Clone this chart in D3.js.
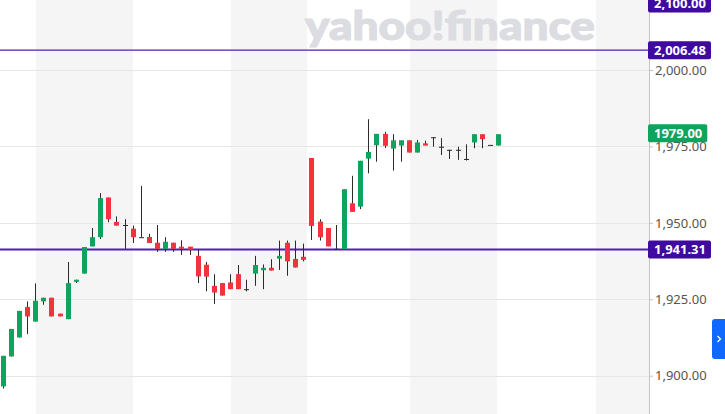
<!DOCTYPE html>
<html>
<head>
<meta charset="utf-8">
<script src="https://cdn.jsdelivr.net/npm/d3@7"></script>
<style>
html,body{margin:0;padding:0;background:#fff;overflow:hidden;}
svg{display:block;}
</style>
</head>
<body>
<svg id="chart" width="725" height="414"></svg>
<script>
// ---- data ----
const candleOpen  = [1896.5,1906.3,1912.5,1922.5,1917.7,1924.3,1925.5,1920.3,1918.5,1930.7,1933.4,1942.3,1945.3,1958.3,1950.3,1949.3,1948.1,1945.3,1945.4,1943.5,1941.5,1943.5,1942.2,1942.2,1939.2,1936.3,1929.4,1930.3,1930.5,1933.2,1928.3,1933.4,1934.5,1935.3,1938.3,1943.5,1938.2,1938.9,1971.2,1950.4,1948.3,1941.5,1941.4,1956.4,1955.3,1971.0,1975.4,1979.1,1974.3,1975.3,1977.0,1973.0,1976.0,1978.0,1974.9,1973.9,1973.9,1970.9,1976.3,1979.0,1975.5,1975.3];
const candleHigh  = [1906.5,1915.3,1921.2,1924.3,1930.2,1925.5,1925.5,1920.3,1937.2,1931.4,1942.1,1948.3,1959.7,1958.3,1952.1,1951.2,1949.1,1962.1,1946.4,1949.3,1945.3,1943.5,1944.3,1942.2,1941.2,1937.2,1933.2,1930.3,1933.2,1936.2,1931.4,1939.2,1936.4,1938.1,1944.2,1944.2,1944.2,1943.2,1971.2,1951.2,1948.3,1949.3,1961.0,1965.4,1970.3,1983.9,1979.1,1979.8,1979.0,1977.0,1977.0,1977.1,1976.9,1978.0,1977.7,1973.9,1974.9,1975.7,1979.0,1979.0,1975.5,1979.0];
const candleLow   = [1895.8,1906.3,1912.5,1913.6,1917.7,1923.2,1919.4,1919.4,1918.5,1930.3,1933.4,1942.3,1944.7,1950.2,1949.1,1941.5,1943.4,1945.3,1943.4,1940.5,1940.5,1940.5,1939.5,1939.5,1930.3,1927.6,1923.5,1926.2,1928.3,1928.3,1927.6,1929.4,1928.3,1934.4,1934.6,1932.7,1935.4,1937.4,1944.4,1944.2,1942.3,1941.5,1941.4,1953.6,1954.5,1966.2,1970.0,1974.5,1967.1,1970.0,1973.0,1973.0,1975.3,1974.9,1972.2,1970.9,1970.6,1970.4,1974.4,1974.4,1975.5,1975.3];
const candleClose = [1906.5,1915.3,1921.2,1919.4,1924.5,1925.5,1919.4,1919.4,1930.3,1931.4,1942.1,1945.3,1958.1,1951.2,1949.1,1949.3,1945.3,1945.3,1943.4,1941.5,1943.8,1941.5,1941.5,1941.2,1932.5,1932.4,1927.2,1926.2,1928.3,1928.3,1928.3,1936.2,1935.3,1934.4,1939.2,1937.4,1935.4,1937.9,1949.0,1945.3,1942.3,1941.5,1961.0,1953.6,1970.3,1973.2,1979.1,1975.2,1977.0,1977.0,1973.0,1976.3,1975.3,1978.0,1974.9,1973.9,1973.9,1970.9,1979.0,1977.4,1975.5,1979.0];
const yTicks = [1900, 1925, 1950, 1975, 2000];
// shaded trading sessions, in candle-index units
const sessionStart = [4.0, 28.0, 50.1, 73.0];
const sessionEnd   = [16.0, 37.4, 60.8, 79.6];
const levelValues = [2006.48, 1941.31];
const pinnedLevel = 2100.00;
const lastPrice = 1979.00;

// ---- layout ----
const W = 725, H = 414;
const axisX = 649;
const svg = d3.select("#chart");
const x = d3.scaleLinear().domain([-0.4, 79.5]).range([0, axisX]);
const y = d3.scaleLinear().domain([1900, 2000]).range([375.7, 70]);
const green = "#0fa45e", red = "#f2333d", purpleLine = "#4f1fbb", purpleLabel = "#3e0a9f";
const fmt = d3.format(",.2f");

// bands
svg.append("g").selectAll("rect").data(sessionStart.map((s,i)=>[s, sessionEnd[i]])).join("rect")
  .attr("x", d => Math.round(x(d[0])))
  .attr("width", d => Math.min(axisX, Math.round(x(d[1]))) - Math.round(x(d[0])))
  .attr("y", 0).attr("height", H).attr("fill", "#f5f5f5");

// grid
svg.append("g").selectAll("line").data(yTicks).join("line")
  .attr("x1", 0).attr("x2", axisX)
  .attr("y1", d => Math.round(y(d)) + 0.5).attr("y2", d => Math.round(y(d)) + 0.5)
  .attr("stroke", "#e6e6e6").attr("stroke-width", 1);

// watermark
svg.append("text").text("yahoo!finance")
  .attr("x", 305).attr("y", 40)
  .attr("textLength", 290).attr("lengthAdjust", "spacingAndGlyphs")
  .attr("font-family", "Lato, 'Open Sans', sans-serif").attr("font-weight", 900)
  .attr("font-size", 40).attr("fill", "#dcdde2")
  .attr("stroke", "#dcdde2").attr("stroke-width", 1.2);

// level lines
svg.append("g").selectAll("line").data(levelValues).join("line")
  .attr("x1", 0).attr("x2", axisX)
  .attr("y1", d => y(d)).attr("y2", d => y(d))
  .attr("stroke", purpleLine).attr("stroke-width", (d,i) => i === 0 ? 1.2 : 2);

// candles
const idx = d3.range(candleOpen.length);
const bw = 5;
const cg = svg.append("g");
const bodyX = i => Math.round(x(i) - bw / 2);
cg.selectAll("line.wick").data(idx).join("line").attr("class","wick")
  .attr("x1", i => bodyX(i) + bw/2).attr("x2", i => bodyX(i) + bw/2)
  .attr("y1", i => y(candleHigh[i])).attr("y2", i => y(candleLow[i]))
  .attr("stroke", "#2b2b2b").attr("stroke-width", 1);
cg.selectAll("rect.body").data(idx).join("rect").attr("class","body")
  .attr("x", i => bodyX(i)).attr("width", bw)
  .attr("y", i => y(Math.max(candleOpen[i], candleClose[i])))
  .attr("height", i => Math.max(1, Math.abs(y(candleOpen[i]) - y(candleClose[i]))))
  .attr("fill", i => candleClose[i] > candleOpen[i] ? green : (candleClose[i] < candleOpen[i] ? red : "#2b2b2b"));

// axis
svg.append("line").attr("x1", axisX + 0.5).attr("x2", axisX + 0.5).attr("y1", 0).attr("y2", H)
  .attr("stroke", "#c4c4c4");
const ax = svg.append("g").attr("transform", `translate(${axisX},0)`)
  .call(d3.axisRight(y).tickValues(yTicks).tickSize(4).tickPadding(2).tickFormat(fmt));
ax.select(".domain").remove();
ax.selectAll(".tick line").attr("stroke", "#c4c4c4");
ax.selectAll(".tick text").attr("fill", "#555").attr("font-size", 13)
  .attr("font-family", "'Noto Sans', 'Open Sans', sans-serif");

// labels
function priceLabel(cy, txt, bg) {
  const g = svg.append("g");
  const r = g.append("rect").attr("fill", bg).attr("rx", 2);
  const t = g.append("text").text(txt).attr("x", axisX + 5).attr("y", cy).attr("dy", "0.36em")
    .attr("fill", "#fff").attr("font-size", 13).attr("font-weight", "bold")
    .attr("font-family", "'Noto Sans', 'Open Sans', sans-serif");
  const w = t.node().getComputedTextLength();
  r.attr("x", axisX - 1).attr("y", cy - 9).attr("width", w + 11).attr("height", 18);
}
priceLabel(3.5, fmt(pinnedLevel), purpleLabel);
levelValues.forEach(v => priceLabel(y(v), fmt(v), purpleLabel));
priceLabel(y(lastPrice) - 1, d3.format(".2f")(lastPrice), green);

// side button
svg.append("rect").attr("x", 712).attr("y", 319).attr("width", 20).attr("height", 40).attr("rx", 3).attr("fill", "#0f69ff");
svg.append("path").attr("d", "M717.5,336 L720.5,339 L717.5,342").attr("fill", "none")
  .attr("stroke", "#fff").attr("stroke-width", 1.3);
</script>
</body>
</html>
